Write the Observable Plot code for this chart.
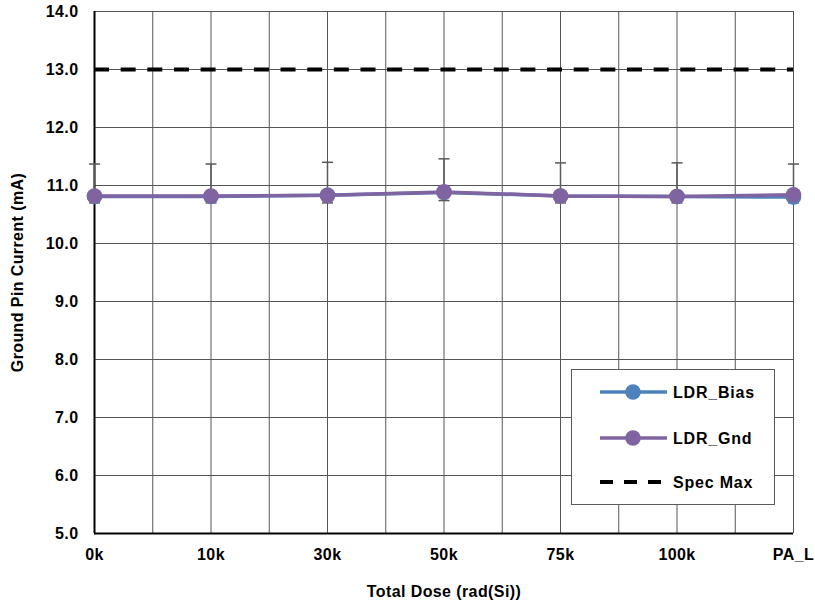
<!DOCTYPE html>
<html>
<head>
<meta charset="utf-8">
<script src="https://cdn.jsdelivr.net/npm/d3@7"></script>
<script src="https://cdn.jsdelivr.net/npm/@observablehq/plot@0.6"></script>
<style>
  html, body { margin: 0; padding: 0; background: #fff; }
  #wrap { position: relative; width: 815px; height: 602px; overflow: hidden; }
  #legend { position: absolute; left: 571px; top: 369px; width: 204px; height: 136px;
    border: 1px solid #595959; background: #fff; box-sizing: border-box; }
  #legend svg { display: block; }
</style>
</head>
<body>
<div id="wrap"><div id="chart"></div><div id="legend"></div></div>
<script>
// ---- data ----
const categories = ["0k", "10k", "30k", "50k", "75k", "100k", "PA_L"];
const ldrBias = [10.81, 10.81, 10.83, 10.88, 10.82, 10.81, 10.80];
const ldrGnd  = [10.82, 10.82, 10.83, 10.89, 10.82, 10.81, 10.84];
const errUpper = [11.37, 11.37, 11.40, 11.46, 11.39, 11.39, 11.37];
const errLower = [10.70, 10.70, 10.70, 10.74, 10.70, 10.70, 10.70];
const specMax = 13.0;
const yTicks = [5, 6, 7, 8, 9, 10, 11, 12, 13, 14];
const seriesNames = ["LDR_Bias", "LDR_Gnd", "Spec Max"];
const colors = { "LDR_Bias": "#4F81BD", "LDR_Gnd": "#8064A2", "Spec Max": "#000000" };

const rows = categories.map((c, i) => ({
  i, cat: c, bias: ldrBias[i], gnd: ldrGnd[i], hi: errUpper[i], lo: errLower[i]
}));

const capSymbol = {
  draw(ctx, size) {
    const w = Math.sqrt(size / Math.PI);
    ctx.moveTo(-w, 0); ctx.lineTo(w, 0);
  }
};

const font = "'Liberation Sans', Arial, Helvetica, sans-serif";
const gridColor = "#555555";

const chart = Plot.plot({
  width: 815,
  height: 602,
  marginLeft: 94,
  marginRight: 22,
  marginTop: 11,
  marginBottom: 69,
  style: { fontFamily: font, fontWeight: "bold", fontSize: "16px", color: "#000", background: "#fff", letterSpacing: "0.4px" },
  x: { type: "linear", domain: [0, categories.length - 1] },
  y: { domain: [5, 14] },
  marks: [
    Plot.gridX({ ticks: d3.range(0, categories.length - 0.99, 0.5), stroke: gridColor, strokeOpacity: 1, strokeWidth: 1 }),
    Plot.gridY({ ticks: yTicks, stroke: gridColor, strokeOpacity: 1, strokeWidth: 1 }),
    Plot.axisY({ ticks: yTicks, tickFormat: d3.format(".1f"), tickSize: 0, tickPadding: 16, label: null, fill: "#000", fontSize: 16 }),
    Plot.axisX({ ticks: d3.range(categories.length), tickFormat: i => categories[i], tickSize: 0, tickPadding: 15, label: null, fill: "#000", fontSize: 16 }),
    Plot.ruleX([0], { stroke: "#000", strokeWidth: 2 }),
    Plot.ruleY([5], { stroke: "#000", strokeWidth: 2 }),
    Plot.ruleY([specMax], { stroke: colors["Spec Max"], strokeWidth: 4, strokeDasharray: "15,11.65" }),
    // error bars
    Plot.ruleX(rows, { x: "i", y1: "lo", y2: "hi", stroke: "#595959", strokeWidth: 1.5 }),
    Plot.dot(rows, { x: "i", y: "hi", symbol: capSymbol, r: 5.5, stroke: "#595959", strokeWidth: 1.5, fill: "none" }),
    Plot.dot(rows, { x: "i", y: "lo", symbol: capSymbol, r: 5.5, stroke: "#595959", strokeWidth: 1.5, fill: "none" }),
    // series
    Plot.line(rows, { x: "i", y: "bias", stroke: colors["LDR_Bias"], strokeWidth: 3.5 }),
    Plot.dot(rows, { x: "i", y: "bias", r: 7.8, fill: colors["LDR_Bias"] }),
    Plot.line(rows, { x: "i", y: "gnd", stroke: colors["LDR_Gnd"], strokeWidth: 3.5 }),
    Plot.dot(rows, { x: "i", y: "gnd", r: 7.8, fill: colors["LDR_Gnd"] }),
    // axis titles
    Plot.text(["Total Dose (rad(Si))"], { frameAnchor: "bottom", dy: 63, lineAnchor: "bottom", fontSize: 16, fill: "#000", letterSpacing: "0.6px" }),
    Plot.text(["Ground Pin Current (mA)"], { frameAnchor: "left", textAnchor: "middle", rotate: -90, dx: -77, fontSize: 16, fill: "#000", letterSpacing: "0.6px" })
  ]
});
document.getElementById("chart").appendChild(chart);

// legend (HTML overlay)
const lg = d3.select("#legend").append("svg").attr("width", 202).attr("height", 134)
  .style("font-family", font).style("font-weight", "bold").style("font-size", "16px").style("letter-spacing", "0.8px");
const rowY = [22, 68, 112];
seriesNames.forEach((name, k) => {
  const g = lg.append("g").attr("transform", `translate(0,${rowY[k]})`);
  if (name === "Spec Max") {
    g.append("line").attr("x1", 28).attr("x2", 95).attr("stroke", colors[name])
      .attr("stroke-width", 4).attr("stroke-dasharray", "13,11");
  } else {
    g.append("line").attr("x1", 28).attr("x2", 95).attr("stroke", colors[name]).attr("stroke-width", 3.5);
    g.append("circle").attr("cx", 61).attr("r", 7.8).attr("fill", colors[name]);
  }
  g.append("text").attr("x", 101).attr("dy", "0.35em").attr("fill", "#000").text(name);
});
</script>
</body>
</html>
